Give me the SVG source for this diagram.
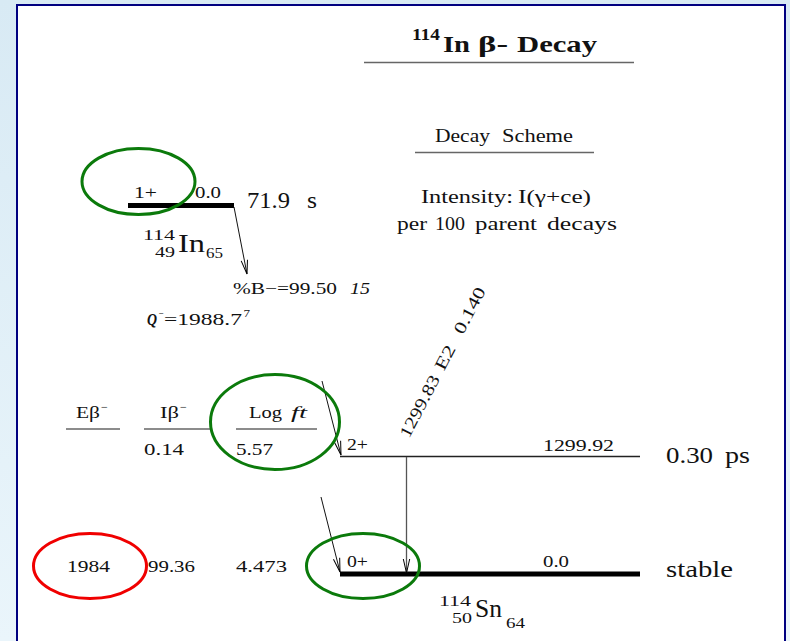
<svg xmlns="http://www.w3.org/2000/svg" width="790" height="641" viewBox="0 0 790 641">
<defs>
<linearGradient id="bg" x1="0" y1="0" x2="0" y2="1">
<stop offset="0" stop-color="#d8eaf4"/>
<stop offset="1" stop-color="#eaf5fb"/>
</linearGradient>
<marker id="vhead" viewBox="-16 -5 18 10" markerWidth="18" markerHeight="10" refX="0" refY="0" orient="auto" markerUnits="userSpaceOnUse">
<path d="M-14,-3.2 L0,0 L-14,3.2" fill="none" stroke="#000" stroke-width="1"/>
</marker>
<style>
text{font-family:"Liberation Serif","Times New Roman",serif;fill:#111;}
.lab{font-size:17px;}
.val{font-size:17px;}
.hd{font-size:18px;}
.big{font-size:24px;}
.sym{font-size:26px;}
.sub{font-size:15px;}
.ul{stroke:#666;stroke-width:1.3;}
.thick{stroke:#000;stroke-width:5;}
.thin{stroke:#222;stroke-width:1.4;}
.arrow{stroke:#111;stroke-width:1;fill:none;marker-end:url(#vhead);}
.gam{stroke:#555;stroke-width:1.3;fill:none;marker-end:url(#vhead);}
.ell{fill:none;stroke-width:3;}
</style>
</defs>

<rect x="0" y="0" width="790" height="641" fill="url(#bg)"/>
<rect x="17" y="5" width="768" height="700" fill="#fff" stroke="#000080" stroke-width="2"/>

<g id="title" font-weight="bold">
<text x="412" y="40" font-size="16" textLength="28" lengthAdjust="spacingAndGlyphs">114</text>
<text x="443" y="52" font-size="24" textLength="27" lengthAdjust="spacingAndGlyphs">In</text>
<text x="478" y="52" font-size="24" textLength="30" lengthAdjust="spacingAndGlyphs">β-</text>
<text x="517" y="52" font-size="24" textLength="80" lengthAdjust="spacingAndGlyphs">Decay</text>
<line x1="364" y1="62.5" x2="634" y2="62.5" class="ul"/>
</g>

<g id="scheme-info">
<text x="435" y="142" class="hd" textLength="55" lengthAdjust="spacingAndGlyphs">Decay</text>
<text x="502" y="142" class="hd" textLength="71" lengthAdjust="spacingAndGlyphs">Scheme</text>
<line x1="415" y1="152.5" x2="594" y2="152.5" class="ul"/>
<text x="421" y="203" class="hd" textLength="92" lengthAdjust="spacingAndGlyphs">Intensity:</text>
<text x="518" y="203" class="hd" textLength="73" lengthAdjust="spacingAndGlyphs">I(γ+ce)</text>
<text x="397" y="230" class="hd" textLength="30" lengthAdjust="spacingAndGlyphs">per</text>
<text x="435" y="230" class="hd" textLength="30" lengthAdjust="spacingAndGlyphs">100</text>
<text x="475" y="230" class="hd" textLength="62" lengthAdjust="spacingAndGlyphs">parent</text>
<text x="547" y="230" class="hd" textLength="70" lengthAdjust="spacingAndGlyphs">decays</text>
</g>

<g id="parent-level">
<line x1="128" y1="205.5" x2="234" y2="205.5" class="thick"/>
<text x="134" y="198" class="lab" textLength="23" lengthAdjust="spacingAndGlyphs">1+</text>
<text x="195" y="198" class="lab" textLength="26" lengthAdjust="spacingAndGlyphs">0.0</text>
<text x="247" y="208" class="big" textLength="43" lengthAdjust="spacingAndGlyphs">71.9</text>
<text x="307" y="208" class="big" textLength="10" lengthAdjust="spacingAndGlyphs">s</text>
<text x="143" y="240" class="sub" textLength="32" lengthAdjust="spacingAndGlyphs">114</text>
<text x="155" y="257" class="sub" textLength="20" lengthAdjust="spacingAndGlyphs">49</text>
<text x="178" y="252" class="sym" textLength="27" lengthAdjust="spacingAndGlyphs">In</text>
<text x="206" y="258" class="sub" textLength="17" lengthAdjust="spacingAndGlyphs">65</text>
<text x="233" y="294" class="val" textLength="104" lengthAdjust="spacingAndGlyphs">%B−=99.50</text>
<text x="350" y="294" class="val" font-style="italic" textLength="20" lengthAdjust="spacingAndGlyphs">15</text>
<text x="147" y="325" class="val" font-style="italic" font-weight="bold" textLength="10" lengthAdjust="spacingAndGlyphs">Q</text>
<text x="158.5" y="317" font-size="11" textLength="5" lengthAdjust="spacingAndGlyphs">−</text>
<text x="164" y="325" class="val" textLength="78" lengthAdjust="spacingAndGlyphs">=1988.7</text>
<text x="243.5" y="317" font-size="11" textLength="6.5" lengthAdjust="spacingAndGlyphs">7</text>
</g>

<g id="column-headers">
<text x="76" y="418" class="val" textLength="24" lengthAdjust="spacingAndGlyphs">Eβ</text>
<text x="101" y="411" font-size="12">−</text>
<line x1="66" y1="429" x2="120" y2="429" class="ul"/>
<text x="160" y="418" class="val" textLength="19" lengthAdjust="spacingAndGlyphs">Iβ</text>
<text x="180" y="411" font-size="12">−</text>
<line x1="144" y1="429" x2="210" y2="429" class="ul"/>
<text x="249" y="418" class="val" textLength="33" lengthAdjust="spacingAndGlyphs">Log</text>
<text x="291" y="418" class="val" font-style="italic" textLength="16" lengthAdjust="spacingAndGlyphs">ft</text>
<line x1="236" y1="429" x2="317" y2="429" class="ul"/>
</g>

<g id="level-2plus">
<line x1="340" y1="456.5" x2="640" y2="456.5" class="thin"/>
<text x="347" y="450" class="lab" textLength="21" lengthAdjust="spacingAndGlyphs">2+</text>
<text x="543" y="451" class="lab" textLength="71" lengthAdjust="spacingAndGlyphs">1299.92</text>
<text x="666" y="463" class="big" textLength="47" lengthAdjust="spacingAndGlyphs">0.30</text>
<text x="725" y="463" class="big" textLength="25" lengthAdjust="spacingAndGlyphs">ps</text>
<text x="144" y="455" class="val" textLength="40" lengthAdjust="spacingAndGlyphs">0.14</text>
<text x="236" y="455" class="val" textLength="37" lengthAdjust="spacingAndGlyphs">5.57</text>
</g>

<g id="level-ground">
<line x1="340" y1="574" x2="640" y2="574" class="thick"/>
<text x="347" y="567" class="lab" textLength="21" lengthAdjust="spacingAndGlyphs">0+</text>
<text x="543" y="567" class="lab" textLength="26" lengthAdjust="spacingAndGlyphs">0.0</text>
<text x="666" y="577" class="big" textLength="67" lengthAdjust="spacingAndGlyphs">stable</text>
<text x="67" y="572" class="val" textLength="43" lengthAdjust="spacingAndGlyphs">1984</text>
<text x="148" y="572" class="val" textLength="47" lengthAdjust="spacingAndGlyphs">99.36</text>
<text x="236" y="572" class="val" textLength="51" lengthAdjust="spacingAndGlyphs">4.473</text>
<text x="439" y="606" class="sub" textLength="32" lengthAdjust="spacingAndGlyphs">114</text>
<text x="452" y="623" class="sub" textLength="20" lengthAdjust="spacingAndGlyphs">50</text>
<text x="475" y="617" class="sym" textLength="27" lengthAdjust="spacingAndGlyphs">Sn</text>
<text x="506" y="628" class="sub" textLength="19" lengthAdjust="spacingAndGlyphs">64</text>
</g>

<g id="connectors">
<line x1="234" y1="207" x2="247" y2="274" class="arrow"/>
<line x1="322" y1="381" x2="341" y2="455" class="arrow"/>
<line x1="321" y1="497" x2="340" y2="572" class="arrow"/>
<line x1="406.5" y1="457" x2="406.5" y2="573" class="gam"/>
<g transform="translate(409 439) rotate(-62.5)">
<text x="0" y="0" font-size="17" textLength="68" lengthAdjust="spacingAndGlyphs">1299.83</text>
<text x="76" y="0" font-size="17" textLength="26" lengthAdjust="spacingAndGlyphs">E2</text>
<text x="117" y="0" font-size="17" textLength="50" lengthAdjust="spacingAndGlyphs">0.140</text>
</g>
</g>

<g id="highlights">
<ellipse cx="138.5" cy="181.5" rx="56.5" ry="33" class="ell" stroke="#0b7a0b"/>
<ellipse cx="275" cy="422" rx="64.5" ry="47.5" class="ell" stroke="#0b7a0b"/>
<ellipse cx="363" cy="566" rx="56.5" ry="32.5" class="ell" stroke="#0b7a0b"/>
<ellipse cx="90" cy="566" rx="56.5" ry="32.5" class="ell" stroke="#f00000"/>
</g>
</svg>
